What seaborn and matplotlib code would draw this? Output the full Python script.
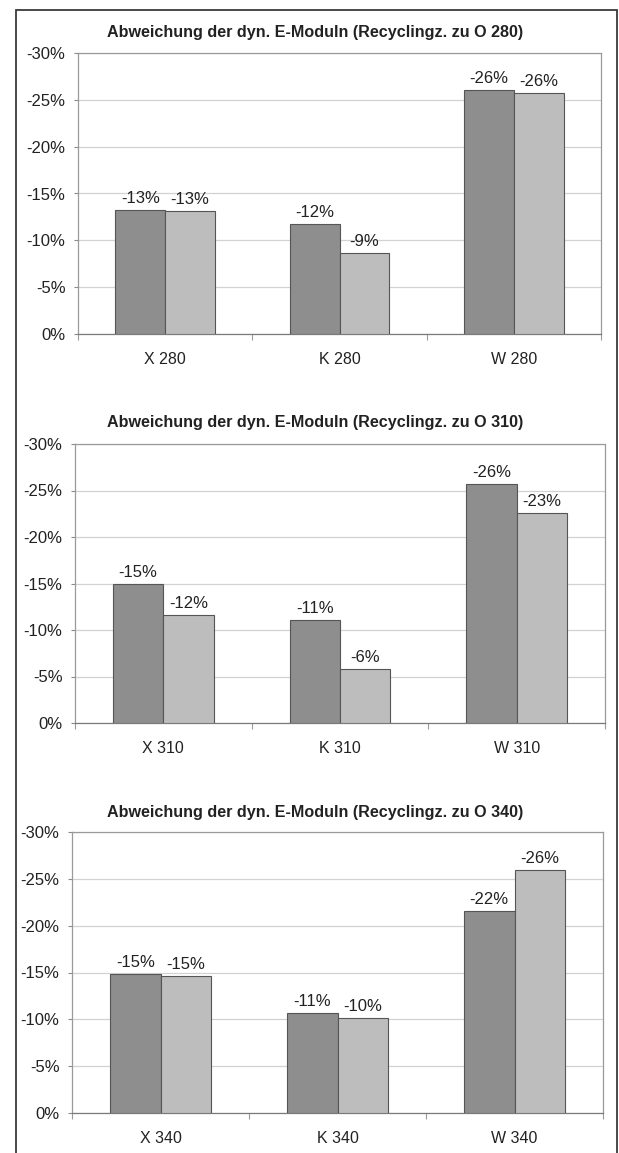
import numpy as np
import pandas as pd
import matplotlib
matplotlib.use("Agg")
import matplotlib.pyplot as plt
from matplotlib.patches import Rectangle
import seaborn as sns

# Abweichung der dynamischen E-Moduln in Prozent (negativ = Abnahme)
kategorien_280 = ["X 280", "K 280", "W 280"]
reihe1_280 = [-13.2, -11.7, -26.0]
reihe2_280 = [-13.1, -8.6, -25.7]

kategorien_310 = ["X 310", "K 310", "W 310"]
reihe1_310 = [-14.9, -11.1, -25.7]
reihe2_310 = [-11.6, -5.8, -22.6]

kategorien_340 = ["X 340", "K 340", "W 340"]
reihe1_340 = [-14.8, -10.7, -21.6]
reihe2_340 = [-14.6, -10.1, -25.9]

titel = [
    "Abweichung der dyn. E-Moduln (Recyclingz. zu O 280)",
    "Abweichung der dyn. E-Moduln (Recyclingz. zu O 310)",
    "Abweichung der dyn. E-Moduln (Recyclingz. zu O 340)",
]
y_ticks = [0, -5, -10, -15, -20, -25, -30]
reihen = ["Reihe 1", "Reihe 2"]

sns.set_style("white")
plt.rcParams["font.family"] = ["Liberation Sans", "DejaVu Sans"]

W, H = 619, 1153
fig = plt.figure(figsize=(W / 100, H / 100), dpi=100)
fig.patch.set_facecolor("white")

# outer frame around the whole page
fig.patches.append(Rectangle((16 / W, -0.05), (617 - 16) / W, 1 - 10 / H + 0.05,
                             transform=fig.transFigure, fill=False,
                             edgecolor="#3a3a3a", linewidth=1.3, zorder=0))

# axes boxes in pixels: left, right, top, bottom
boxen = [(78, 601, 53, 334), (75, 605, 444, 723), (72, 603, 832, 1113)]
titel_y = [33, 423, 813]

panels = [
    (kategorien_280, reihe1_280, reihe2_280),
    (kategorien_310, reihe1_310, reihe2_310),
    (kategorien_340, reihe1_340, reihe2_340),
]

farbe_dunkel = "#8e8e8e"
farbe_hell = "#bdbdbd"

for (kat, r1, r2), (l, r, t, b), tt, ty in zip(panels, boxen, titel, titel_y):
    ax = fig.add_axes([l / W, 1 - b / H, (r - l) / W, (b - t) / H])
    df = pd.DataFrame({
        "Kategorie": kat * 2,
        "Reihe": [reihen[0]] * 3 + [reihen[1]] * 3,
        "Wert": list(r1) + list(r2),
    })
    sns.barplot(data=df, x="Kategorie", y="Wert", hue="Reihe",
                hue_order=reihen, order=kat,
                palette=[farbe_dunkel, farbe_hell], saturation=1,
                width=0.57, gap=0, edgecolor="#555555", linewidth=0.8,
                legend=False, errorbar=None, ax=ax, zorder=3)
    ax.set_ylim(0, -30)
    ax.set_xlim(-0.5, 2.5)
    ax.set_yticks(y_ticks)
    ax.set_yticklabels([f"{v}%" for v in y_ticks])
    ax.yaxis.grid(True, color="#d2d2d2", linewidth=0.9, zorder=0)
    ax.set_axisbelow(True)
    ax.set_xlabel("")
    ax.set_ylabel("")
    for s in ax.spines.values():
        s.set_visible(True)
        s.set_color("#9a9a9a")
        s.set_linewidth(0.9)
    ax.spines["bottom"].set_color("#7a7a7a")
    ax.spines["top"].set_linestyle((0, (3, 1)))
    ax.tick_params(axis="y", length=3, width=0.8, color="#8a8a8a",
                   pad=6, labelsize=12, labelcolor="#222222", left=True)
    ax.tick_params(axis="x", length=0, pad=13, labelsize=11.5,
                   labelcolor="#222222")
    ax.set_xticks([-0.5, 0.5, 1.5, 2.5], minor=True)
    ax.tick_params(axis="x", which="minor", length=4, width=0.8,
                   color="#9a9a9a", bottom=True)
    for cont in ax.containers:
        ax.bar_label(cont, fmt="{:.0f}%", padding=3, fontsize=12,
                     color="#222222")
    fig.text(315 / W, 1 - ty / H, tt, ha="center", va="center",
             fontsize=11.6, fontweight="bold", color="#222222")

fig.savefig("out.png", dpi=100)
